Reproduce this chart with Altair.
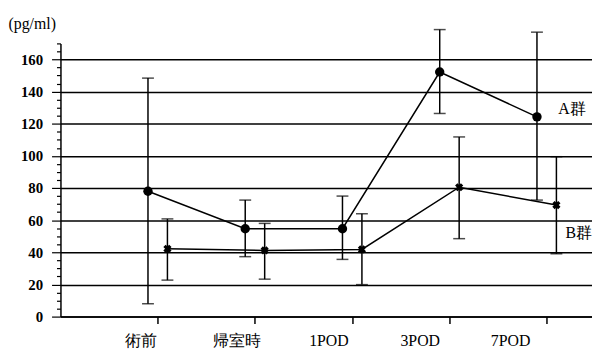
import altair as alt
import pandas as pd

categories = ["術前", "帰室時", "1POD", "3POD", "7POD"]
positions = [1, 2, 3, 4, 5]
a_mean = [78.0, 54.7, 54.7, 152.2, 124.3]
a_upper = [148.4, 72.5, 75.0, 178.6, 177.0]
a_lower = [8.0, 37.3, 35.6, 126.4, 72.5]
b_mean = [42.2, 41.2, 41.8, 80.5, 69.4]
b_upper = [60.8, 58.0, 64.0, 111.8, 99.5]
b_lower = [22.7, 23.3, 19.9, 48.5, 39.1]
group_offset = {"A群": -0.1, "B群": 0.1}
label_names = ["A群", "B群"]
label_x = [5.26, 5.33]
label_y = [129, 52]
y_ticks = list(range(0, 171, 5))

rows = []
for g, means, ups, lows in [("A群", a_mean, a_upper, a_lower), ("B群", b_mean, b_upper, b_lower)]:
    for c, p, m, u, l in zip(categories, positions, means, ups, lows):
        rows.append({"group": g, "cat": c, "x": p + group_offset[g], "mean": m, "upper": u, "lower": l})
df = pd.DataFrame(rows)
labels_df = pd.DataFrame({"name": label_names, "x": label_x, "y": label_y})

cat_expr = "[" + ",".join(f"'{c}'" for c in categories) + "]"

xscale = alt.Scale(domain=[0, 5.466], nice=False, zero=False)
yscale = alt.Scale(domain=[0, 170], nice=False)

xaxis = alt.Axis(
    values=positions, tickCount=100,
    labelExpr=f"{cat_expr}[datum.value - 1]",
    title=None, grid=False,
    domainColor="black", domainWidth=1.5,
    tickColor="black", tickWidth=1.5, tickSize=7,
    labelFont="Liberation Serif", labelFontSize=16, labelColor="black",
    labelPadding=9,
    labelOffset={"condition": [
        {"test": "datum.value == 1", "value": -17},
        {"test": "datum.value == 2", "value": -19},
        {"test": "datum.value == 3", "value": -24},
        {"test": "datum.value == 4", "value": -30},
    ], "value": -37},
)

yaxis = alt.Axis(
    values=y_ticks, tickCount=100,
    labelExpr="datum.value % 20 == 0 ? datum.value : ''",
    labelOverlap=False,
    title="(pg/ml)", titleAngle=0, titleAlign="left", titleBaseline="middle",
    titleX=-53, titleY=-20, titleFont="Liberation Serif", titleFontSize=16,
    titleFontWeight="normal", titleColor="black",
    grid=True, gridColor="black", gridWidth=1.5,
    gridOpacity={"condition": {"test": "datum.value % 20 == 0", "value": 1}, "value": 0},
    domainColor="black", domainWidth=1.5,
    tickColor="black", tickWidth=1.2,
    tickSize={"condition": {"test": "datum.value % 20 == 0", "value": 9}, "value": 4},
    labelFont="Liberation Serif", labelFontSize=15, labelFontWeight="bold", labelColor="black",
    labelPadding=9,
)

base = alt.Chart(df)

lines = base.mark_line(color="black", strokeWidth=1.5).encode(
    x=alt.X("x:Q", scale=xscale, axis=xaxis),
    y=alt.Y("mean:Q", scale=yscale, axis=yaxis),
    detail="group:N",
)

rules = base.mark_rule(color="black", strokeWidth=1.5).encode(
    x="x:Q", y="lower:Q", y2="upper:Q"
)
cap_hi = base.mark_tick(color="black", thickness=1.5, size=12, orient="horizontal").encode(
    x="x:Q", y="upper:Q"
)
cap_lo = base.mark_tick(color="black", thickness=1.5, size=12, orient="horizontal").encode(
    x="x:Q", y="lower:Q"
)

pts_a = base.transform_filter("datum.group == 'A群'").mark_point(
    shape="circle", filled=True, color="black", size=90, opacity=1
).encode(x="x:Q", y="mean:Q")

pts_b = base.transform_filter("datum.group == 'B群'").mark_point(
    shape="cross", filled=True, color="black", size=70, angle=45, opacity=1
).encode(x="x:Q", y="mean:Q")

texts = alt.Chart(labels_df).mark_text(
    font="Liberation Serif", fontSize=16, color="black", align="center", baseline="middle"
).encode(x="x:Q", y="y:Q", text="name:N")

chart = alt.layer(lines, rules, cap_hi, cap_lo, pts_a, pts_b, texts).properties(
    width=537, height=276,
    background="white",
    autosize=alt.AutoSizeParams(type="none"),
    padding={"left": 53, "top": 34, "right": 0, "bottom": 35},
).configure_view(stroke=None)

chart.save("out.html", embed_options={"renderer": "svg", "actions": False})
